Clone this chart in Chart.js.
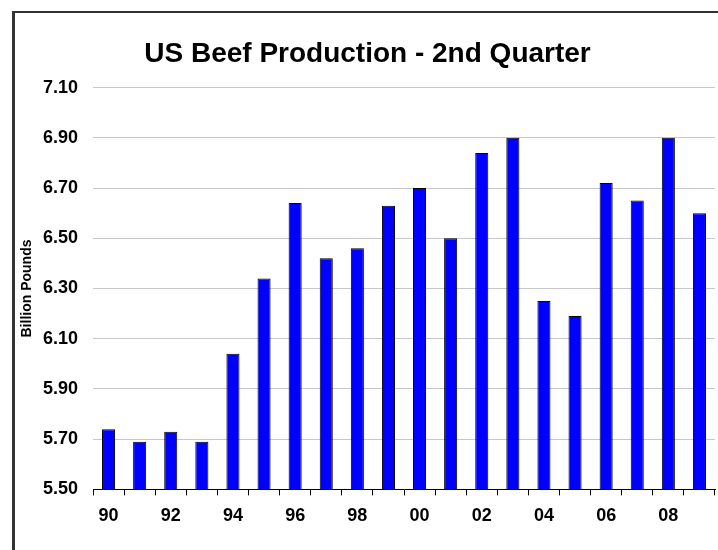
<!DOCTYPE html>
<html>
<head>
<meta charset="utf-8">
<title>US Beef Production - 2nd Quarter</title>
<script src="https://cdn.jsdelivr.net/npm/chart.js@4"></script>
<style>
  body { margin: 0; background: #fff; }
  canvas { display: block; }
</style>
</head>
<body>
<canvas id="beefChart" width="718" height="550"></canvas>
<script>
// second quarter beef production, billion pounds, 1990-2009
var years = ['90', '91', '92', '93', '94', '95', '96', '97', '98', '99',
             '00', '01', '02', '03', '04', '05', '06', '07', '08', '09'];
var production = [5.74, 5.69, 5.73, 5.69, 6.04, 6.34, 6.64, 6.42, 6.46, 6.63,
                  6.70, 6.50, 6.84, 6.90, 6.25, 6.19, 6.72, 6.65, 6.90, 6.60];
var yMin = 5.5;
var yMax = 7.1;
var yStep = 0.2;

var FONT = "'Liberation Sans', Arial, sans-serif";

// white page and the dark frame round the chart
var framePlugin = {
  id: 'frame',
  beforeDraw: function(chart) {
    var ctx = chart.ctx;
    ctx.save();
    ctx.fillStyle = '#fff';
    ctx.fillRect(0, 0, chart.width, chart.height);
    ctx.fillStyle = '#333';
    ctx.fillRect(12, 11, 3, chart.height);
    ctx.fillRect(12, 11, chart.width, 2);
    ctx.restore();
  }
};

new Chart(document.getElementById('beefChart'), {
  type: 'bar',
  data: {
    labels: years,
    datasets: [{
      label: 'Billion Pounds',
      data: production,
      backgroundColor: '#0000ff',
      borderColor: '#000',
      borderWidth: 1,
      categoryPercentage: 1,
      barPercentage: 0.42
    }]
  },
  options: {
    responsive: false,
    animation: false,
    layout: { padding: { top: 0, left: 20, right: 3, bottom: 13 } },
    plugins: {
      legend: { display: false },
      tooltip: { enabled: false },
      title: {
        display: true,
        text: 'US Beef Production - 2nd Quarter',
        color: '#000',
        font: { family: FONT, size: 28, weight: 'bold', lineHeight: 1.2 },
        padding: { top: 37, bottom: 17 }
      }
    },
    scales: {
      x: {
        offset: true,
        grid: {
          offset: true,
          drawOnChartArea: false,
          drawTicks: true,
          tickLength: 6,
          color: '#000'
        },
        border: { display: true, color: '#000', width: 1 },
        ticks: {
          color: '#000',
          font: { family: FONT, size: 18, weight: 'bold' },
          padding: 10,
          autoSkip: false,
          maxRotation: 0,
          callback: function(value, index) {
            return index % 2 === 0 ? years[index] : '';
          }
        }
      },
      y: {
        min: yMin,
        max: yMax,
        afterFit: function(scale) { scale.width = 73; },
        grid: { color: '#c8c8c8', drawTicks: false },
        border: { display: false },
        ticks: {
          stepSize: yStep,
          color: '#000',
          padding: 15,
          font: { family: FONT, size: 18, weight: 'bold' },
          callback: function(value) { return value.toFixed(2); }
        },
        title: {
          display: true,
          text: 'Billion Pounds',
          color: '#000',
          font: { family: FONT, size: 14, weight: 'bold', lineHeight: 1 },
          padding: { top: 0, bottom: 0 }
        }
      }
    }
  },
  plugins: [framePlugin]
});
</script>
</body>
</html>
